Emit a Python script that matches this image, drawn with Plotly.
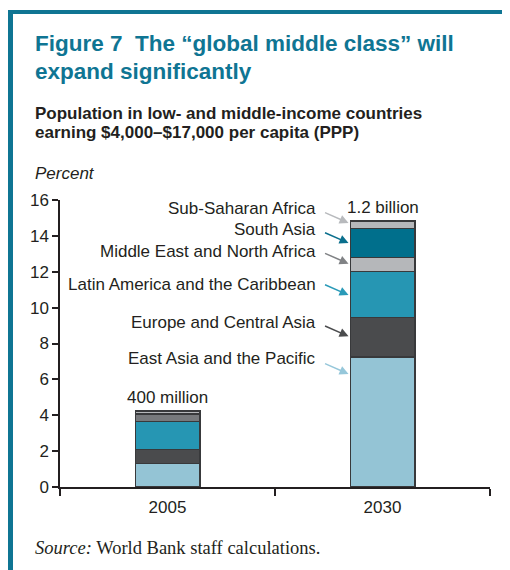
import plotly.graph_objects as go

# data (percent of population in low- and middle-income countries)
years = ["2005", "2030"]
regions = [
    "East Asia and the Pacific",
    "Europe and Central Asia",
    "Latin America and the Caribbean",
    "Middle East and North Africa",
    "South Asia",
    "Sub-Saharan Africa",
]
east_asia = [1.32, 7.25]
europe_central_asia = [0.78, 2.2]
latin_america = [1.56, 2.57]
mena = [0.38, 0.78]
south_asia = [0.05, 1.6]
sub_saharan = [0.15, 0.42]
totals_text = ["400 million", "1.2 billion"]

series = [east_asia, europe_central_asia, latin_america, mena, south_asia, sub_saharan]

# colours
bar_colors = [
    ["#94C4D5", "#94C4D5"],
    ["#4A4B4D", "#4A4B4D"],
    ["#2696B3", "#2696B3"],
    ["#77797C", "#B5B7BA"],
    ["#006F8C", "#006F8C"],
    ["#B5B7BA", "#B5B7BA"],
]
arrow_colors = ["#96C7DA", "#4B4C4E", "#2A9AB8", "#808285", "#0A6F8D", "#B8BABD"]
TEAL = "#0F7593"
TXT = "#231F20"
FONT = "Liberation Sans, Arial, sans-serif"

fig = go.Figure()
for name, vals, cols in zip(regions, series, bar_colors):
    fig.add_trace(go.Bar(
        x=years, y=vals, name=name, width=0.3,
        marker=dict(color=cols, line=dict(color="#38393B", width=1.5)),
        showlegend=False, hoverinfo="x+y+name",
    ))

# total labels above bars (category index as x)
for i, yr in enumerate(years):
    top = sum(s[i] for s in series)
    fig.add_annotation(x=i, y=top, xref="x", yref="y", text=totals_text[i],
                       showarrow=False, yanchor="bottom", yshift=2,
                       font=dict(size=17, color=TXT))


# page has an 8px body margin: positions below are in window pixels
def px_y(py):
    return (487 - py) / 287


def px_x(px):
    return (px - 60) / 430


# region labels + arrows pointing at 2030 bar
label_px_y = [358, 322, 284, 251, 229, 208]      # label centres (pixels)
head_y = [6.3, 8.4, 10.7, 12.45, 13.6, 14.72]     # arrow head heights on axis
for i, name in enumerate(regions):
    fig.add_annotation(x=px_x(318), y=px_y(label_px_y[i]), xref="paper", yref="paper",
                       text=name, showarrow=False, xanchor="right", yanchor="middle",
                       font=dict(size=17, color=TXT))
    fig.add_annotation(x=0.842, y=head_y[i], xref="x", yref="y", text="",
                       showarrow=True, ax=-25, ay=-11, arrowhead=2, arrowsize=1.2,
                       arrowwidth=1.5, arrowcolor=arrow_colors[i])

# titles
fig.add_annotation(x=px_x(33), y=px_y(43), xref="paper", yref="paper",
                   text="<b>Figure 7  The \u201cglobal middle class\u201d will</b>",
                   showarrow=False, xanchor="left", yanchor="middle",
                   font=dict(size=22.5, color=TEAL, family=FONT))
fig.add_annotation(x=px_x(33), y=px_y(72), xref="paper", yref="paper",
                   text="<b>expand significantly</b>",
                   showarrow=False, xanchor="left", yanchor="middle",
                   font=dict(size=22.5, color=TEAL, family=FONT))
fig.add_annotation(x=px_x(33), y=px_y(113), xref="paper", yref="paper",
                   text="<b>Population in low- and middle-income countries</b>",
                   showarrow=False, xanchor="left", yanchor="middle",
                   font=dict(size=17, color=TXT, family=FONT))
fig.add_annotation(x=px_x(33), y=px_y(133), xref="paper", yref="paper",
                   text="<b>earning $4,000\u2013$17,000 per capita (PPP)</b>",
                   showarrow=False, xanchor="left", yanchor="middle",
                   font=dict(size=17, color=TXT, family=FONT))
fig.add_annotation(x=px_x(33), y=px_y(173), xref="paper", yref="paper",
                   text="<i>Percent</i>",
                   showarrow=False, xanchor="left", yanchor="middle",
                   font=dict(size=17, color=TXT, family=FONT))
fig.add_annotation(x=px_x(33), y=px_y(548), xref="paper", yref="paper",
                   text="<i>Source:</i> World Bank staff calculations.",
                   showarrow=False, xanchor="left", yanchor="middle",
                   font=dict(size=18.5, color=TXT, family="Liberation Serif, Times New Roman, serif"))

# teal frame
fig.add_shape(type="line", xref="paper", yref="paper", x0=px_x(10.5), x1=px_x(10.5),
              y0=px_y(12), y1=px_y(580), line=dict(color=TEAL, width=5))
fig.add_shape(type="line", xref="paper", yref="paper", x0=px_x(8), x1=px_x(508),
              y0=px_y(12), y1=px_y(12), line=dict(color=TEAL, width=4))
fig.add_shape(type="line", xref="paper", yref="paper", x0=px_x(507.5), x1=px_x(507.5),
              y0=px_y(12), y1=px_y(580), line=dict(color=TEAL, width=2))

fig.update_layout(
    barmode="stack",
    width=502, height=562,
    margin=dict(l=52, r=20, t=192, b=83),
    paper_bgcolor="white", plot_bgcolor="white",
    font=dict(family=FONT, size=17, color=TXT),
    xaxis=dict(type="category", range=[-0.5, 1.5], tickson="boundaries",
               ticks="outside", ticklen=7, tickwidth=1.5, tickcolor="#231F20",
               showline=True, linecolor="#231F20", linewidth=1.5,
               showgrid=False, tickfont=dict(size=17), ticklabelstandoff=4),
    yaxis=dict(range=[0, 16], dtick=2, ticks="outside", ticklen=6, tickwidth=1.5,
               tickcolor="#231F20", showline=True, linecolor="#231F20", linewidth=1.5,
               showgrid=False, zeroline=False, tickfont=dict(size=17)),
)

fig.write_html("out.html")
